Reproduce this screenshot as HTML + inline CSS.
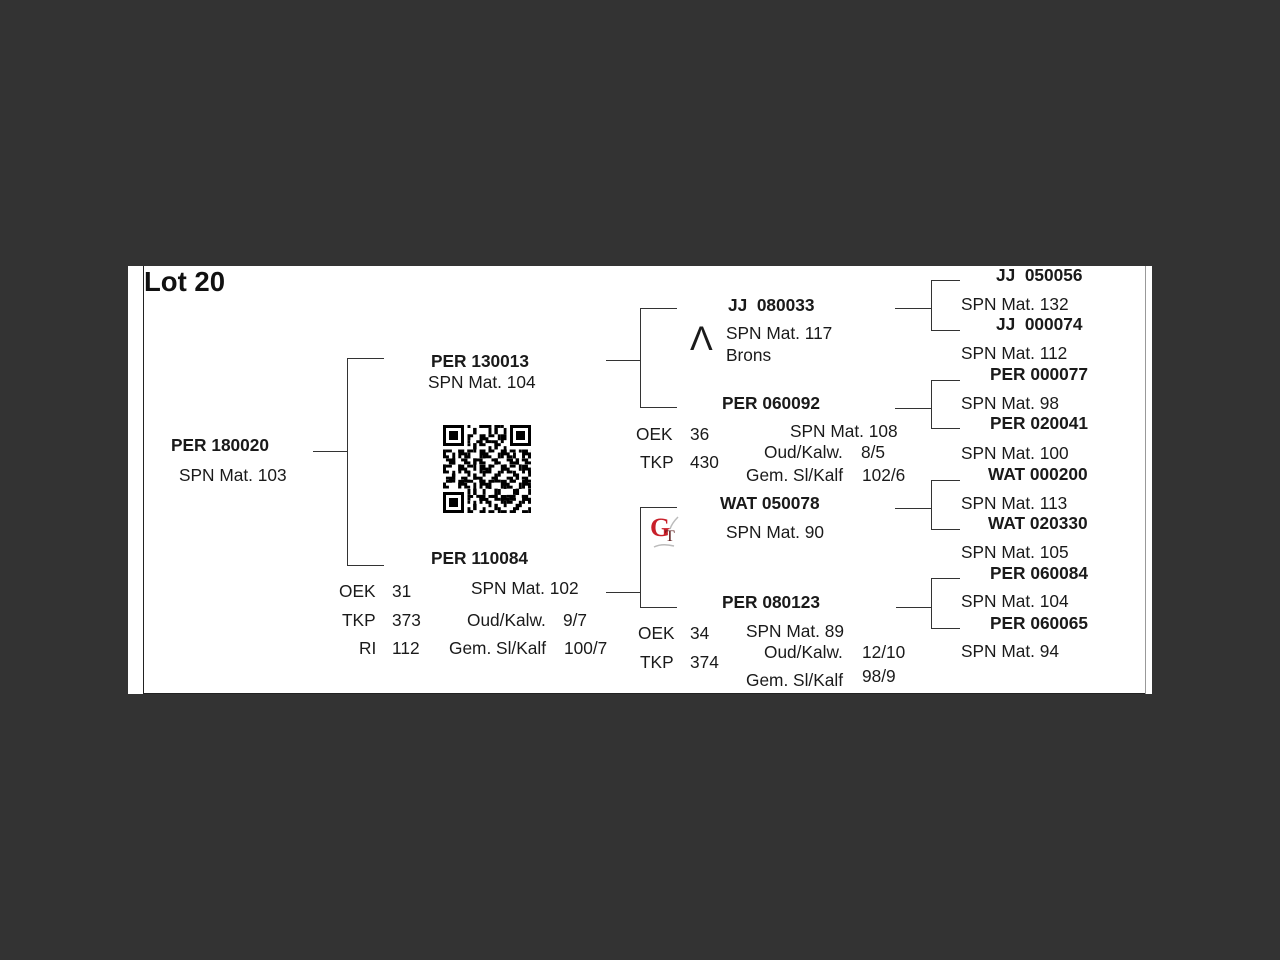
<!DOCTYPE html>
<html><head><meta charset="utf-8">
<style>
html,body{margin:0;padding:0;}
body{width:1280px;height:960px;background:#333333;position:relative;overflow:hidden;font-family:"Liberation Sans",Arial,sans-serif;color:#111;}
#page{position:absolute;left:128px;top:266px;width:1024px;height:428px;background:#fff;}
.t{position:absolute;font-size:17.3px;line-height:18px;white-space:nowrap;color:#1a1a1a;}
.b{font-weight:bold;}
.h{position:absolute;height:1px;background:#333;}
.v{position:absolute;width:1px;background:#333;}
</style></head><body>
<div id="page"></div>
<div class="v" style="left:143px;top:266px;height:428px;background:#222"></div>
<div class="h" style="left:143px;top:693px;width:1003px;background:#222"></div>
<div class="v" style="left:1145px;top:266px;height:428px;background:#999"></div>

<div class="t b" style="left:144px;top:268px;font-size:27.5px;line-height:28px;color:#111">Lot 20</div>

<div class="t b" style="left:171px;top:436px">PER 180020</div>
<div class="t" style="left:179px;top:466px">SPN Mat. 103</div>
<div class="h" style="left:313px;top:451px;width:35px"></div>
<div class="v" style="left:347px;top:358px;height:208px"></div>
<div class="h" style="left:347px;top:358px;width:37px"></div>
<div class="h" style="left:347px;top:565px;width:37px"></div>

<div class="t b" style="left:431px;top:352px">PER 130013</div>
<div class="t" style="left:428px;top:373px">SPN Mat. 104</div>
<svg style="position:absolute;left:443px;top:425px" width="88" height="88" viewBox="0 0 29 29" shape-rendering="crispEdges">
<defs>
<pattern id="p1" width="7" height="5" patternUnits="userSpaceOnUse">
<rect x="0" y="0" width="2" height="1" fill="#000"/><rect x="3" y="1" width="1" height="2" fill="#000"/><rect x="5" y="0" width="1" height="1" fill="#000"/><rect x="1" y="3" width="2" height="1" fill="#000"/><rect x="5" y="3" width="2" height="2" fill="#000"/><rect x="0" y="4" width="1" height="1" fill="#000"/>
</pattern>
<pattern id="p2" width="5" height="6" patternUnits="userSpaceOnUse">
<rect x="0" y="1" width="1" height="2" fill="#000"/><rect x="2" y="0" width="2" height="1" fill="#000"/><rect x="3" y="3" width="1" height="2" fill="#000"/><rect x="1" y="5" width="2" height="1" fill="#000"/>
</pattern>
</defs>
<rect x="0" y="0" width="29" height="29" fill="url(#p1)"/>
<rect x="0" y="0" width="29" height="29" fill="url(#p2)"/>
<g>
<rect x="0" y="0" width="8" height="8" fill="#fff"/><rect x="21" y="0" width="8" height="8" fill="#fff"/><rect x="0" y="21" width="8" height="8" fill="#fff"/>
<rect x="0" y="0" width="7" height="7" fill="#000"/><rect x="1" y="1" width="5" height="5" fill="#fff"/><rect x="2" y="2" width="3" height="3" fill="#000"/>
<rect x="22" y="0" width="7" height="7" fill="#000"/><rect x="23" y="1" width="5" height="5" fill="#fff"/><rect x="24" y="2" width="3" height="3" fill="#000"/>
<rect x="0" y="22" width="7" height="7" fill="#000"/><rect x="1" y="23" width="5" height="5" fill="#fff"/><rect x="2" y="24" width="3" height="3" fill="#000"/>
</g>
</svg>

<div class="t b" style="left:431px;top:549px">PER 110084</div>
<div class="t" style="left:339px;top:582px">OEK</div><div class="t" style="left:392px;top:582px">31</div>
<div class="t" style="left:342px;top:611px">TKP</div><div class="t" style="left:392px;top:611px">373</div>
<div class="t" style="left:359px;top:639px">RI</div><div class="t" style="left:392px;top:639px">112</div>
<div class="t" style="left:471px;top:579px">SPN Mat. 102</div>
<div class="t" style="left:467px;top:611px">Oud/Kalw.</div><div class="t" style="left:563px;top:611px">9/7</div>
<div class="t" style="left:449px;top:639px">Gem. Sl/Kalf</div><div class="t" style="left:564px;top:639px">100/7</div>

<div class="h" style="left:606px;top:360px;width:34px"></div>
<div class="v" style="left:640px;top:308px;height:100px"></div>
<div class="h" style="left:640px;top:308px;width:37px"></div>
<div class="h" style="left:640px;top:407px;width:37px"></div>
<div class="h" style="left:606px;top:592px;width:34px"></div>
<div class="v" style="left:640px;top:507px;height:101px"></div>
<div class="h" style="left:640px;top:507px;width:37px"></div>
<div class="h" style="left:640px;top:607px;width:37px"></div>

<div class="t b" style="left:728px;top:296px">JJ&nbsp; 080033</div>
<div class="t" style="left:690px;top:321px;font-size:34px;line-height:36px">&#923;</div>
<div class="t" style="left:726px;top:324px">SPN Mat. 117</div>
<div class="t" style="left:726px;top:346px">Brons</div>

<div class="t b" style="left:722px;top:394px">PER 060092</div>
<div class="t" style="left:636px;top:425px">OEK</div><div class="t" style="left:690px;top:425px">36</div>
<div class="t" style="left:640px;top:453px">TKP</div><div class="t" style="left:690px;top:453px">430</div>
<div class="t" style="left:790px;top:422px">SPN Mat. 108</div>
<div class="t" style="left:764px;top:443px">Oud/Kalw.</div><div class="t" style="left:861px;top:443px">8/5</div>
<div class="t" style="left:746px;top:466px">Gem. Sl/Kalf</div><div class="t" style="left:862px;top:466px">102/6</div>

<div class="t" style="left:650px;top:514px;font-family:'Liberation Serif',serif;font-size:26px;line-height:28px;color:#c8202a;font-weight:bold">G</div>
<div class="t" style="left:665px;top:529px;font-family:'Liberation Serif',serif;font-size:16px;line-height:16px;color:#5a1a1a">T</div>
<svg style="position:absolute;left:648px;top:513px" width="36" height="38"><path d="M30 4 Q 24 10 22 16 M6 34 Q 14 30 26 33" stroke="#bbb" stroke-width="1.5" fill="none"/></svg>
<div class="t b" style="left:720px;top:494px">WAT 050078</div>
<div class="t" style="left:726px;top:523px">SPN Mat. 90</div>

<div class="t b" style="left:722px;top:593px">PER 080123</div>
<div class="t" style="left:638px;top:624px">OEK</div><div class="t" style="left:690px;top:624px">34</div>
<div class="t" style="left:640px;top:653px">TKP</div><div class="t" style="left:690px;top:653px">374</div>
<div class="t" style="left:746px;top:622px">SPN Mat. 89</div>
<div class="t" style="left:764px;top:643px">Oud/Kalw.</div><div class="t" style="left:862px;top:643px">12/10</div>
<div class="t" style="left:746px;top:671px">Gem. Sl/Kalf</div><div class="t" style="left:862px;top:667px">98/9</div>

<div class="h" style="left:895px;top:308px;width:36px"></div>
<div class="v" style="left:931px;top:280px;height:51px"></div>
<div class="h" style="left:931px;top:280px;width:29px"></div>
<div class="h" style="left:931px;top:330px;width:29px"></div>

<div class="h" style="left:895px;top:408px;width:36px"></div>
<div class="v" style="left:931px;top:380px;height:49px"></div>
<div class="h" style="left:931px;top:380px;width:29px"></div>
<div class="h" style="left:931px;top:428px;width:29px"></div>

<div class="h" style="left:895px;top:508px;width:36px"></div>
<div class="v" style="left:931px;top:480px;height:50px"></div>
<div class="h" style="left:931px;top:480px;width:29px"></div>
<div class="h" style="left:931px;top:529px;width:29px"></div>

<div class="h" style="left:896px;top:607px;width:36px"></div>
<div class="v" style="left:931px;top:578px;height:51px"></div>
<div class="h" style="left:931px;top:578px;width:29px"></div>
<div class="h" style="left:931px;top:628px;width:29px"></div>

<div class="t b" style="left:996px;top:266px">JJ&nbsp; 050056</div>
<div class="t" style="left:961px;top:295px">SPN Mat. 132</div>
<div class="t b" style="left:996px;top:315px">JJ&nbsp; 000074</div>
<div class="t" style="left:961px;top:344px">SPN Mat. 112</div>
<div class="t b" style="left:990px;top:365px">PER 000077</div>
<div class="t" style="left:961px;top:394px">SPN Mat. 98</div>
<div class="t b" style="left:990px;top:414px">PER 020041</div>
<div class="t" style="left:961px;top:444px">SPN Mat. 100</div>
<div class="t b" style="left:988px;top:465px">WAT 000200</div>
<div class="t" style="left:961px;top:494px">SPN Mat. 113</div>
<div class="t b" style="left:988px;top:514px">WAT 020330</div>
<div class="t" style="left:961px;top:543px">SPN Mat. 105</div>
<div class="t b" style="left:990px;top:564px">PER 060084</div>
<div class="t" style="left:961px;top:592px">SPN Mat. 104</div>
<div class="t b" style="left:990px;top:614px">PER 060065</div>
<div class="t" style="left:961px;top:642px">SPN Mat. 94</div>
</body></html>
